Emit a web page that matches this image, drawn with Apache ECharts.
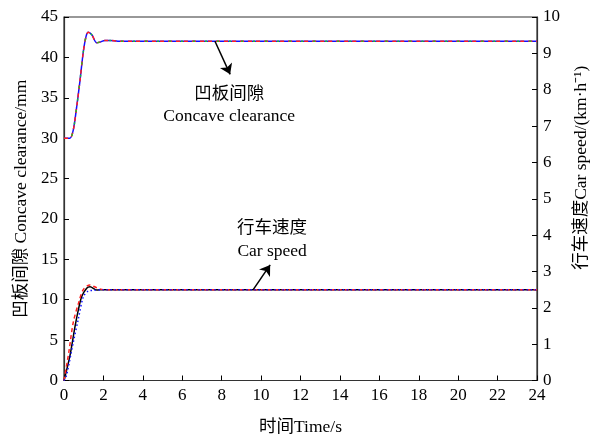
<!DOCTYPE html>
<html>
  <head>
    <title></title>
    <meta charset="UTF-8" />
    <script src="https://cdn.jsdelivr.net/npm/echarts@6/dist/echarts.min.js"></script>
  </head>
  <body style="margin:0">
    <div id="main"></div>
    <script>
      const width = 600;
      const height = 441;
      const main = document.getElementById('main');
      main.style.width = `${width}px`;
      main.style.height = `${height}px`;

      // concave clearance (mm), all controllers overlap
      const clearTime = [0, 0.3, 0.47, 0.64, 0.81, 0.98, 1.12, 1.23, 1.41, 1.66, 1.83, 2.08, 2.34, 2.74, 24];
      const clearValue = [30, 30, 31, 33.8, 37.1, 40.7, 42.6, 43.1, 42.8, 41.8, 41.9, 42.1, 42.1, 42, 42];

      // car speed (km/h)
      const speedTimeA = [0, 0.3, 0.56, 0.73, 0.9, 1.15, 1.32, 1.66, 1.98, 24];
      const speedA = [0, 0.68, 1.49, 1.95, 2.31, 2.54, 2.58, 2.49, 2.5, 2.5];
      const speedTimeB = [0, 0.25, 0.47, 0.75, 0.98, 1.32, 1.66, 2.0, 24];
      const speedB = [0, 0.8, 1.6, 2.15, 2.5, 2.63, 2.55, 2.5, 2.5];
      const speedTimeC = [0, 0.13, 0.47, 0.73, 0.98, 1.23, 1.5, 2.0, 24];
      const speedC = [0, 0.15, 1.05, 1.7, 2.3, 2.46, 2.48, 2.5, 2.5];

      // annotations: arrow [from, to] and label anchor
      const clearArrow = [[7.66, 42], [8.43, 37.9]];
      const clearLabelAt = [8.38, 34.0];
      const speedArrow = [[9.6, 2.5], [10.46, 3.18]];
      const speedLabelAt = [10.56, 3.88];

      const pairs = (xs, ys) => xs.map((x, i) => [x, ys[i]]);
      const font = '"Liberation Serif", "Noto Sans CJK SC", serif';
      const axisColor = '#333';

      const myChart = echarts.init(main);
      const option = {
        animation: false,
        textStyle: { fontFamily: font },
        grid: {
          left: 64, right: 63, top: 17, bottom: 56,
          show: true, borderColor: axisColor, borderWidth: 1.2
        },
        xAxis: {
          type: 'value',
          min: 0, max: 24, interval: 2,
          name: '时间Time/s',
          nameLocation: 'middle',
          nameGap: 38,
          nameTextStyle: { fontSize: 17.5, color: '#000', fontFamily: font },
          axisLine: { lineStyle: { color: axisColor, width: 1.2 } },
          axisTick: { inside: true, length: 5, lineStyle: { color: '#000' } },
          axisLabel: { fontSize: 17, color: '#000', margin: 7, fontFamily: font },
          splitLine: { show: false }
        },
        yAxis: [
          {
            type: 'value',
            min: 0, max: 45, interval: 5,
            name: '凹板间隙 Concave clearance/mm',
            nameLocation: 'middle',
            nameGap: 27,
            nameTextStyle: { fontSize: 17.5, color: '#000', fontFamily: font },
            axisLine: { show: true, lineStyle: { color: axisColor, width: 1.2 } },
            axisTick: { show: true, inside: true, length: 5, lineStyle: { color: '#000' } },
            axisLabel: { fontSize: 17, color: '#000', margin: 6, fontFamily: font },
            splitLine: { show: false }
          },
          {
            type: 'value',
            position: 'right',
            min: 0, max: 10, interval: 1,
            name: '行车速度Car speed/(km·h⁻¹)',
            nameLocation: 'middle',
            nameRotate: 90,
            nameGap: 36,
            nameTextStyle: { fontSize: 17.5, color: '#000', fontFamily: font, padding: [0, 0, 0, 62] },
            axisLine: { show: true, lineStyle: { color: axisColor, width: 1.2 } },
            axisTick: { show: true, inside: true, length: 5, lineStyle: { color: '#000' } },
            axisLabel: { fontSize: 17, color: '#000', margin: 6, fontFamily: font },
            splitLine: { show: false }
          }
        ],
        series: [
          {
            type: 'line', yAxisIndex: 0, smooth: 0.3, symbol: 'none',
            data: pairs(clearTime, clearValue),
            lineStyle: { color: '#1010ff', width: 1.5 },
            markLine: {
              silent: true, symbol: ['none', 'arrow'], symbolSize: 10,
              lineStyle: { color: '#000', type: 'solid', width: 1.5 },
              label: { show: false },
              data: [[{ coord: clearArrow[0] }, { coord: clearArrow[1] }]]
            },
            markPoint: {
              silent: true, symbolSize: 0,
              label: {
                show: true, position: 'inside', fontSize: 17.5, lineHeight: 22,
                color: '#000', fontFamily: font,
                formatter: '凹板间隙\nConcave clearance'
              },
              data: [{ coord: clearLabelAt }]
            }
          },
          {
            type: 'line', yAxisIndex: 0, smooth: 0.3, symbol: 'none',
            data: pairs(clearTime, clearValue),
            lineStyle: { color: '#ff2020', width: 1.5, type: [4, 4] }
          },
          {
            type: 'line', yAxisIndex: 0, smooth: 0.3, symbol: 'none',
            data: pairs(clearTime, clearValue),
            lineStyle: { color: '#20c020', width: 1.5, type: [2, 10], dashOffset: 3 }
          },
          {
            type: 'line', yAxisIndex: 1, smooth: 0.3, symbol: 'none',
            data: pairs(speedTimeA, speedA),
            lineStyle: { color: '#000', width: 1.5 },
            markLine: {
              silent: true, symbol: ['none', 'arrow'], symbolSize: 10,
              lineStyle: { color: '#000', type: 'solid', width: 1.5 },
              label: { show: false },
              data: [[{ coord: speedArrow[0] }, { coord: speedArrow[1] }]]
            },
            markPoint: {
              silent: true, symbolSize: 0,
              label: {
                show: true, position: 'inside', fontSize: 17.5, lineHeight: 23,
                color: '#000', fontFamily: font,
                formatter: '行车速度\nCar speed'
              },
              data: [{ coord: speedLabelAt }]
            }
          },
          {
            type: 'line', yAxisIndex: 1, smooth: 0.3, symbol: 'none',
            data: pairs(speedTimeB, speedB),
            lineStyle: { color: '#ff2020', width: 1.5, type: [4, 3] }
          },
          {
            type: 'line', yAxisIndex: 1, smooth: 0.3, symbol: 'none',
            data: pairs(speedTimeC, speedC),
            lineStyle: { color: '#1010ff', width: 1.5, type: [1.5, 2.5] }
          }
        ]
      };
      myChart.setOption(option);
    </script>
  </body>
</html>
